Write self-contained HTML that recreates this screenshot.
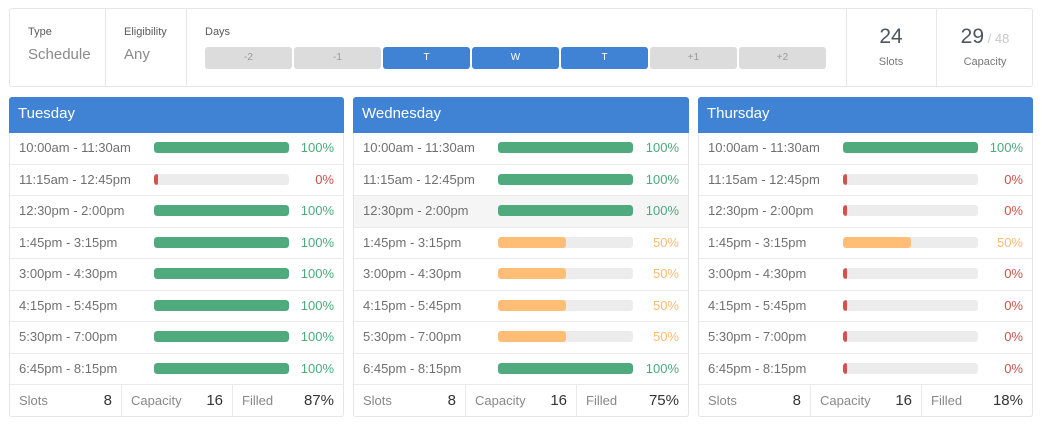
<!DOCTYPE html>
<html><head><meta charset="utf-8">
<style>
*{box-sizing:border-box;margin:0;padding:0}
body{width:1042px;height:426px;background:#fff;font-family:"Liberation Sans",sans-serif;position:relative;overflow:hidden}
.abs{position:absolute}
.top{left:9px;top:8px;width:1024px;height:79px;border:1px solid #e6e6e6;border-radius:3px}
.vd{position:absolute;top:0;bottom:0;width:1px;background:#e8e8e8}
.lbl{position:absolute;font-size:11px;color:#5a5a5a;top:16px;line-height:14px}
.val{position:absolute;font-size:15px;color:#8a8a8a;top:36px;line-height:20px}
.btn{position:absolute;top:38px;height:22px;width:87px;border-radius:3px;background:#dcdcdc;color:#9a9a9a;font-size:10px;text-align:center;line-height:22px}
.btn.on{background:#4083d4;color:#fff}
.big{position:absolute;top:15px;font-size:21px;color:#4e5660;line-height:26px;text-align:center}
.small{position:absolute;top:46px;font-size:11px;color:#777;line-height:14px;text-align:center}
.panel{position:absolute;top:97px;height:320px;border:1px solid #e6e6e6;border-top:none;border-radius:3px}
.hdr{position:absolute;left:-1px;right:-1px;top:0;height:36px;background:#4083d4;border-radius:3px 3px 0 0;color:#fff;font-size:15px;line-height:30px;padding-left:9px;padding-top:2px}
.row{position:absolute;left:0;right:0;height:31.5px;border-bottom:1px solid #eaeaea}
.row.hl{background:#f5f5f5}
.tm{position:absolute;left:9px;top:0;line-height:29px;font-size:13px;color:#707070}
.bar{position:absolute;left:144px;top:9px;width:135px;height:11px;border-radius:3px;background:#ececec;overflow:hidden}
.fill{position:absolute;left:0;top:0;bottom:0;border-radius:3px}
.g{background:#4fab7e}.r{background:#d0534f}.o{background:#ffbd76}
.pc{position:absolute;right:9px;top:0;line-height:29px;font-size:13px}
.pg{color:#4caa7c}.pr{color:#d0504b}.po{color:#ffbb70}
.foot{position:absolute;left:0;right:0;top:288px;height:31px}
.cell{position:absolute;top:0;height:31px;width:111px}
.cell .fl{position:absolute;left:9px;top:8px;font-size:13px;color:#888;line-height:16px}
.cell .fv{position:absolute;right:9px;top:7px;font-size:15px;color:#333;line-height:18px}
.cell.bl{border-left:1px solid #eaeaea}
</style></head><body>

<div class="abs top">
  <div class="lbl" style="left:18px">Type</div>
  <div class="val" style="left:18px">Schedule</div>
  <div class="vd" style="left:95px"></div>
  <div class="lbl" style="left:114px">Eligibility</div>
  <div class="val" style="left:114px">Any</div>
  <div class="vd" style="left:176px"></div>
  <div class="lbl" style="left:195px">Days</div>
  <div class="btn" style="left:195px">-2</div>
  <div class="btn" style="left:284px">-1</div>
  <div class="btn on" style="left:373px">T</div>
  <div class="btn on" style="left:462px">W</div>
  <div class="btn on" style="left:551px">T</div>
  <div class="btn" style="left:640px">+1</div>
  <div class="btn" style="left:729px">+2</div>
  <div class="vd" style="left:836px"></div>
  <div class="big" style="left:836px;width:90px">24</div>
  <div class="small" style="left:836px;width:90px">Slots</div>
  <div class="vd" style="left:926px"></div>
  <div class="big" style="left:926px;width:98px">29<span style="font-size:13px;color:#c8c8c8"> / 48</span></div>
  <div class="small" style="left:926px;width:98px">Capacity</div>
</div>

<!-- Tuesday -->
<div class="panel" style="left:9px;width:335px">
  <div class="hdr">Tuesday</div>
  <div class="row" style="top:36px"><div class="tm">10:00am - 11:30am</div><div class="bar"><div class="fill g" style="width:100%"></div></div><div class="pc pg">100%</div></div>
  <div class="row" style="top:67.5px"><div class="tm">11:15am - 12:45pm</div><div class="bar"><div class="fill r" style="width:4px"></div></div><div class="pc pr">0%</div></div>
  <div class="row" style="top:99px"><div class="tm">12:30pm - 2:00pm</div><div class="bar"><div class="fill g" style="width:100%"></div></div><div class="pc pg">100%</div></div>
  <div class="row" style="top:130.5px"><div class="tm">1:45pm - 3:15pm</div><div class="bar"><div class="fill g" style="width:100%"></div></div><div class="pc pg">100%</div></div>
  <div class="row" style="top:162px"><div class="tm">3:00pm - 4:30pm</div><div class="bar"><div class="fill g" style="width:100%"></div></div><div class="pc pg">100%</div></div>
  <div class="row" style="top:193.5px"><div class="tm">4:15pm - 5:45pm</div><div class="bar"><div class="fill g" style="width:100%"></div></div><div class="pc pg">100%</div></div>
  <div class="row" style="top:225px"><div class="tm">5:30pm - 7:00pm</div><div class="bar"><div class="fill g" style="width:100%"></div></div><div class="pc pg">100%</div></div>
  <div class="row" style="top:256.5px"><div class="tm">6:45pm - 8:15pm</div><div class="bar"><div class="fill g" style="width:100%"></div></div><div class="pc pg">100%</div></div>
  <div class="foot">
    <div class="cell" style="left:0"><span class="fl">Slots</span><span class="fv">8</span></div>
    <div class="cell bl" style="left:111px"><span class="fl">Capacity</span><span class="fv">16</span></div>
    <div class="cell bl" style="left:222px;width:111px"><span class="fl">Filled</span><span class="fv">87%</span></div>
  </div>
</div>

<!-- Wednesday -->
<div class="panel" style="left:353px;width:336px">
  <div class="hdr">Wednesday</div>
  <div class="row" style="top:36px"><div class="tm">10:00am - 11:30am</div><div class="bar"><div class="fill g" style="width:100%"></div></div><div class="pc pg">100%</div></div>
  <div class="row" style="top:67.5px"><div class="tm">11:15am - 12:45pm</div><div class="bar"><div class="fill g" style="width:100%"></div></div><div class="pc pg">100%</div></div>
  <div class="row hl" style="top:99px"><div class="tm">12:30pm - 2:00pm</div><div class="bar"><div class="fill g" style="width:100%"></div></div><div class="pc pg">100%</div></div>
  <div class="row" style="top:130.5px"><div class="tm">1:45pm - 3:15pm</div><div class="bar"><div class="fill o" style="width:50%"></div></div><div class="pc po">50%</div></div>
  <div class="row" style="top:162px"><div class="tm">3:00pm - 4:30pm</div><div class="bar"><div class="fill o" style="width:50%"></div></div><div class="pc po">50%</div></div>
  <div class="row" style="top:193.5px"><div class="tm">4:15pm - 5:45pm</div><div class="bar"><div class="fill o" style="width:50%"></div></div><div class="pc po">50%</div></div>
  <div class="row" style="top:225px"><div class="tm">5:30pm - 7:00pm</div><div class="bar"><div class="fill o" style="width:50%"></div></div><div class="pc po">50%</div></div>
  <div class="row" style="top:256.5px"><div class="tm">6:45pm - 8:15pm</div><div class="bar"><div class="fill g" style="width:100%"></div></div><div class="pc pg">100%</div></div>
  <div class="foot">
    <div class="cell" style="left:0"><span class="fl">Slots</span><span class="fv">8</span></div>
    <div class="cell bl" style="left:111px"><span class="fl">Capacity</span><span class="fv">16</span></div>
    <div class="cell bl" style="left:222px;width:112px"><span class="fl">Filled</span><span class="fv">75%</span></div>
  </div>
</div>

<!-- Thursday -->
<div class="panel" style="left:698px;width:335px">
  <div class="hdr">Thursday</div>
  <div class="row" style="top:36px"><div class="tm">10:00am - 11:30am</div><div class="bar"><div class="fill g" style="width:100%"></div></div><div class="pc pg">100%</div></div>
  <div class="row" style="top:67.5px"><div class="tm">11:15am - 12:45pm</div><div class="bar"><div class="fill r" style="width:4px"></div></div><div class="pc pr">0%</div></div>
  <div class="row" style="top:99px"><div class="tm">12:30pm - 2:00pm</div><div class="bar"><div class="fill r" style="width:4px"></div></div><div class="pc pr">0%</div></div>
  <div class="row" style="top:130.5px"><div class="tm">1:45pm - 3:15pm</div><div class="bar"><div class="fill o" style="width:50%"></div></div><div class="pc po">50%</div></div>
  <div class="row" style="top:162px"><div class="tm">3:00pm - 4:30pm</div><div class="bar"><div class="fill r" style="width:4px"></div></div><div class="pc pr">0%</div></div>
  <div class="row" style="top:193.5px"><div class="tm">4:15pm - 5:45pm</div><div class="bar"><div class="fill r" style="width:4px"></div></div><div class="pc pr">0%</div></div>
  <div class="row" style="top:225px"><div class="tm">5:30pm - 7:00pm</div><div class="bar"><div class="fill r" style="width:4px"></div></div><div class="pc pr">0%</div></div>
  <div class="row" style="top:256.5px"><div class="tm">6:45pm - 8:15pm</div><div class="bar"><div class="fill r" style="width:4px"></div></div><div class="pc pr">0%</div></div>
  <div class="foot">
    <div class="cell" style="left:0"><span class="fl">Slots</span><span class="fv">8</span></div>
    <div class="cell bl" style="left:111px"><span class="fl">Capacity</span><span class="fv">16</span></div>
    <div class="cell bl" style="left:222px;width:111px"><span class="fl">Filled</span><span class="fv">18%</span></div>
  </div>
</div>

</body></html>
